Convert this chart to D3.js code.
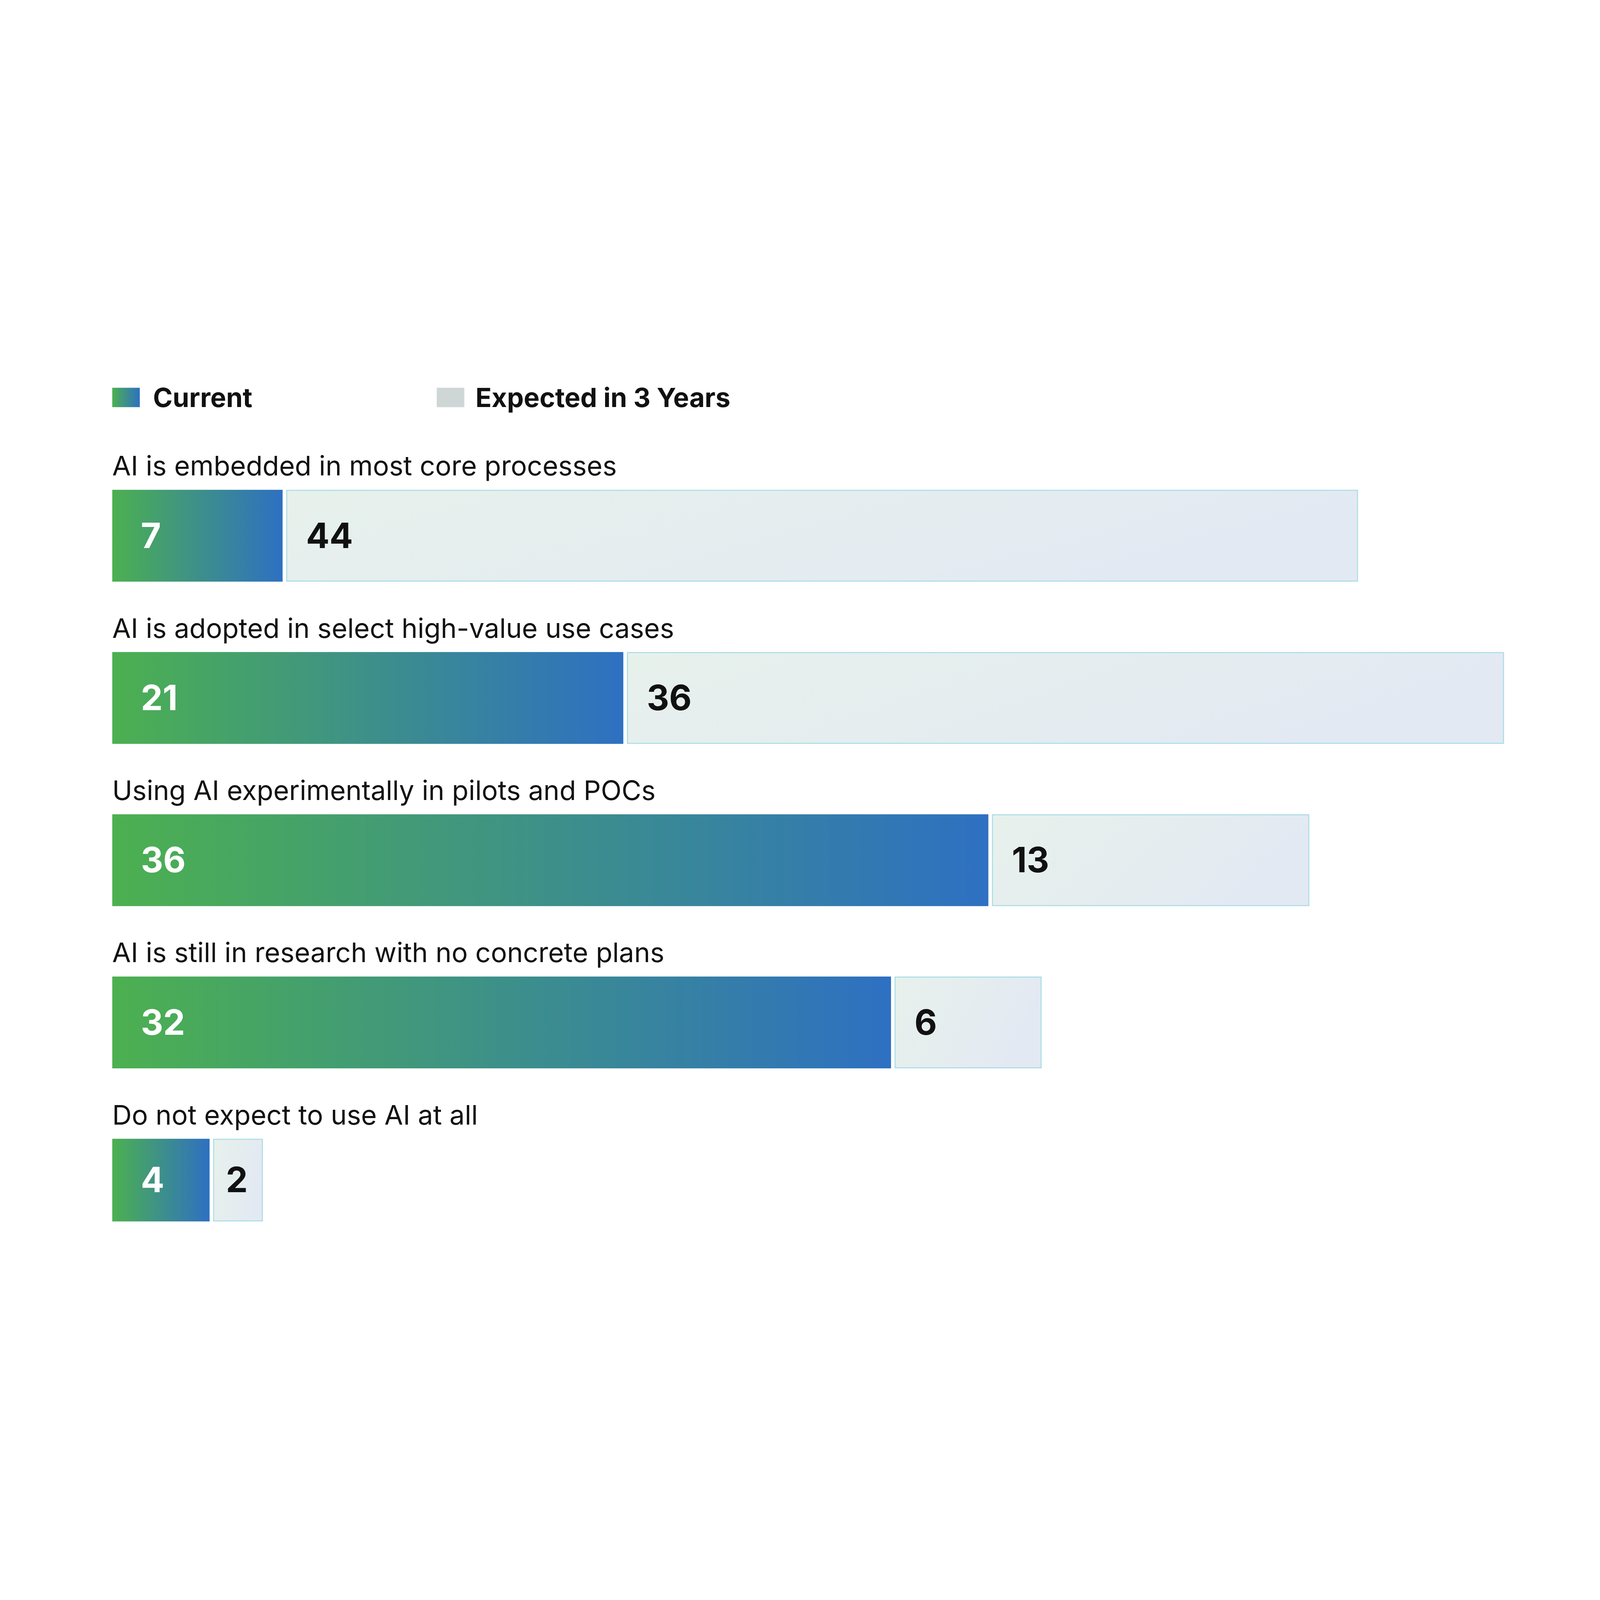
<!DOCTYPE html>
<html>
<head>
<meta charset="utf-8">
<script src="https://cdn.jsdelivr.net/npm/d3@7"></script>
<style>
  html, body { margin: 0; padding: 0; background: #fff; overflow: hidden; width: 100%; height: 100%; }
  svg { display: block; width: 100vw; height: 100vh; }
  text { font-family: Inter, "Liberation Sans", sans-serif; }
</style>
</head>
<body>
<div class="chart"></div>
<script>
var categories = [
    "AI is embedded in most core processes",
    "AI is adopted in select high-value use cases",
    "Using AI experimentally in pilots and POCs",
    "AI is still in research with no concrete plans",
    "Do not expect to use AI at all"
];
var currentValues = [7, 21, 36, 32, 4];
var expectedValues = [44, 36, 13, 6, 2];
var seriesNames = ["Current", "Expected in 3 Years"];

// drawn in a 1568 x 882 frame, scaled to the window
var width = 1568, height = 882;
var left = 110, gap = 4, rowStep = 159, barH = 90;

var x = d3.scaleLinear().domain([0, 1]).range([0, 23.85]);

var svg = d3.select(".chart").append("svg")
    .attr("viewBox", "0 0 " + width + " " + height)
    .attr("preserveAspectRatio", "xMidYMid meet");

var defs = svg.append("defs");
var gCur = defs.append("linearGradient").attr("id", "grad-cur")
    .attr("x1", "0%").attr("x2", "100%").attr("y1", "0%").attr("y2", "0%");
gCur.append("stop").attr("offset", "0%").attr("stop-color", "#4cb050");
gCur.append("stop").attr("offset", "100%").attr("stop-color", "#2e70c2");

var gExp = defs.append("linearGradient").attr("id", "grad-exp")
    .attr("x1", "0%").attr("x2", "100%").attr("y1", "0%").attr("y2", "30%");
gExp.append("stop").attr("offset", "0%").attr("stop-color", "#e7f1eb");
gExp.append("stop").attr("offset", "100%").attr("stop-color", "#e3e9f3");

// legend
var legend = svg.append("g");
legend.append("rect").attr("x", 110).attr("y", 37).attr("width", 27).attr("height", 19)
    .style("fill", "url(#grad-cur)");
legend.append("text").attr("x", 150).attr("y", 56).text(seriesNames[0])
    .style("font-size", "26px").style("font-weight", "700").style("fill", "#111");
legend.append("rect").attr("x", 428).attr("y", 37).attr("width", 27).attr("height", 19)
    .style("fill", "#cfd6d6");
legend.append("text").attr("x", 466).attr("y", 56).text(seriesNames[1])
    .style("font-size", "26px").style("font-weight", "700").style("fill", "#111");

var rows = svg.selectAll("g.row")
    .data(categories)
    .enter()
    .append("g")
    .attr("class", "row")
    .attr("transform", function (d, i) { return "translate(0," + (137 + i * rowStep) + ")"; });

rows.append("text")
    .attr("x", left)
    .attr("y", -14)
    .text(function (d) { return d; })
    .style("font-size", "26.5px")
    .style("fill", "#111");

function h(i) { return i === categories.length - 1 ? 81 : barH; }

rows.append("rect")
    .attr("x", left)
    .attr("y", 0)
    .attr("width", function (d, i) { return x(currentValues[i]); })
    .attr("height", function (d, i) { return h(i); })
    .style("fill", "url(#grad-cur)");

rows.append("rect")
    .attr("x", function (d, i) { return left + x(currentValues[i]) + gap; })
    .attr("y", 0.5)
    .attr("width", function (d, i) { return x(expectedValues[i]); })
    .attr("height", function (d, i) { return h(i) - 1; })
    .style("fill", "url(#grad-exp)")
    .style("stroke", "#a9dde6")
    .style("stroke-width", 1);

rows.append("text")
    .attr("x", left + 28)
    .attr("y", function (d, i) { return h(i) / 2 + 12; })
    .text(function (d, i) { return currentValues[i]; })
    .style("font-size", "34px").style("font-weight", "700").style("fill", "#fff");

rows.append("text")
    .attr("x", function (d, i) {
        var off = expectedValues[i] < 3 ? 12 : 19;
        return left + x(currentValues[i]) + gap + off;
    })
    .attr("y", function (d, i) { return h(i) / 2 + 12; })
    .text(function (d, i) { return expectedValues[i]; })
    .style("font-size", "34px").style("font-weight", "700").style("fill", "#111");
</script>
</body>
</html>
